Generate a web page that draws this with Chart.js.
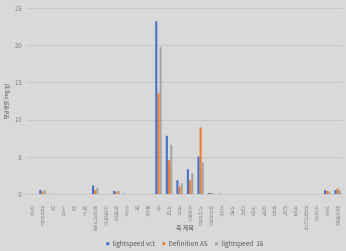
<!DOCTYPE html>
<html><head><meta charset="utf-8">
<script src="https://cdn.jsdelivr.net/npm/chart.js@4.4.0/dist/chart.umd.min.js"></script>
<style>
html,body{margin:0;padding:0;background:#d9d9d9;}
#c{display:block;}
</style></head>
<body>
<canvas id="c" width="346" height="251"></canvas>
<script>
// 카테고리 / 시리즈 값
const cats = ['곡류','감자전분','당','두류','밤','채소','육류가공품','조개해산','어패류','우유',
  '떡','빵류','차','커피','과자','초콜릿','기타음료','탄산음료','주류','라면',
  '김치','국밥','찌개','반찬','간식','과일','건강기능식','조미료','보충','빙과제품'];
const vct = [0,0.6,0.1,0,0,0,1.2,0,0.5,0.1, 0,0,23.3,7.9,1.9,3.4,5.1,0.2,0.1,0, 0,0,0,0,0,0,0,0,0.6,0.6];
const defAS = [0,0.4,0,0,0,0,0.6,0,0.4,0, 0,0,13.6,4.6,1.1,1.9,9.0,0.2,0,0, 0,0,0,0,0,0,0,0,0.5,0.8];
const ls16 = [0,0.6,0,0,0,0,0.9,0,0.5,0, 0,0,19.8,6.7,1.5,2.9,4.3,0.2,0,0, 0,0,0,0,0,0,0,0,0.4,0.5];
const yTicks = [0,5,10,15,20,25];

const tick = '#7f7f7f';
const grid = '#c8c8c8';
const ff = "'Noto Sans CJK KR', sans-serif";

new Chart(document.getElementById('c'), {
  type: 'bar',
  data: {
    labels: cats.map(s => s.split('')),
    datasets: [
      { label: 'lightspeed vct', data: vct, backgroundColor: '#4472C4' },
      { label: 'Definition AS', data: defAS, backgroundColor: '#ED7D31' },
      { label: 'lightspeed  16', data: ls16, backgroundColor: '#A5A5A5' }
    ].map(d => ({ ...d, borderWidth: 0, categoryPercentage: 0.62, barPercentage: 0.95 }))
  },
  options: {
    animation: false, responsive: false, maintainAspectRatio: false,
    layout: { padding: { left: 2, right: 3, top: 4, bottom: -6 } },
    plugins: {
      legend: {
        position: 'bottom', fullSize: false,
        labels: {
          boxWidth: 3, boxHeight: 3, padding: 3, color: '#595959', font: { size: 6.5, family: ff },
          // 항목 간격 넓히기 (마지막 항목 제외)
          generateLabels: ch => Chart.defaults.plugins.legend.labels.generateLabels(ch).map((l, i) => ({ ...l, text: i < 2 ? l.text + '   ' : l.text }))
        }
      },
      tooltip: { enabled: false }
    },
    scales: {
      x: {
        afterFit: ax => { ax.height = 43; },
        grid: { display: false }, border: { color: grid },
        ticks: { color: tick, font: { size: 5, family: ff, lineHeight: 1.0 }, maxRotation: 0, minRotation: 0, autoSkip: false, padding: 3 },
        title: { display: true, text: '축 제목', color: '#595959', font: { size: 6, family: ff }, padding: { top: 0, bottom: 6 } }
      },
      y: {
        min: 0, max: 25,
        afterBuildTicks: ax => { ax.ticks = yTicks.map(v => ({ value: v })); },
        grid: { color: grid, drawTicks: false }, border: { display: false },
        ticks: { color: tick, font: { size: 6, family: ff }, padding: 5 },
        title: { display: true, text: '평균함량 (mg/g)', color: '#595959', font: { size: 5, family: ff }, padding: 1 }
      }
    }
  }
});
</script>
</body></html>
